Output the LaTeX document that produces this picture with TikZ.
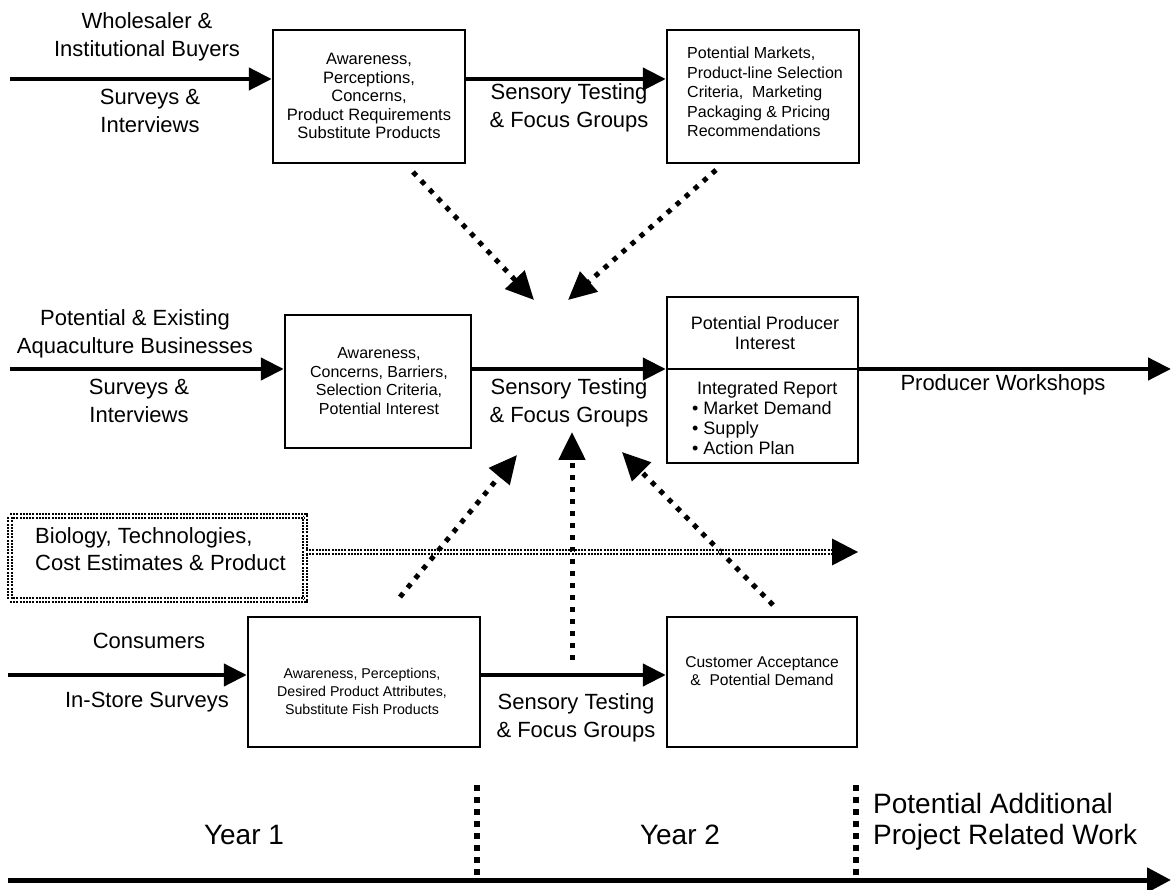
\documentclass[tikz,border=0pt]{standalone}
\usepackage{fontspec}
\setmainfont{Liberation Sans}
\usetikzlibrary{arrows.meta}
\tikzset{
  box/.style={draw, line width=2.5pt, inner sep=0pt},
  biglabel/.style={font=\fontsize{22}{27.5}\selectfont, align=center, inner sep=0pt},
  yearlabel/.style={font=\fontsize{28}{31}\selectfont, align=left, inner sep=0pt},
  boxtext/.style={font=\fontsize{16.5}{18.5}\selectfont, align=center, inner sep=0pt},
  prodtext/.style={font=\fontsize{18}{20}\selectfont, inner sep=0pt},
  mainarrow/.style={line width=4.5pt, -{Triangle[length=23pt,width=22pt]}},
  dotarrow/.style={line width=5pt, dash pattern=on 5pt off 7pt, -{Triangle[length=28pt,width=26pt]}},
  dbldot/.style={line width=2pt, double distance=1.2pt, dash pattern=on 2pt off 1.2pt},
  timedash/.style={line width=6pt, dash pattern=on 6pt off 6pt},
}
\begin{document}
\begin{tikzpicture}[x=1pt,y=-1pt]
\useasboundingbox (0,0) rectangle (1171,890);

% ---------- boxes ----------
\node[box, minimum width=192pt, minimum height=133pt] (b1) at (369,96.5) {};
\node[box, minimum width=192pt, minimum height=133pt] (b2) at (763,96.5) {};
\node[box, minimum width=186pt, minimum height=133pt] (b3) at (378,381.5) {};
\node[box, minimum width=191pt, minimum height=166pt] (prod) at (762.5,380) {};
\node[box, minimum width=232pt, minimum height=130pt] (b4) at (364,682) {};
\node[box, minimum width=190pt, minimum height=130pt] (b5) at (762,682) {};
\node[draw, dbldot, minimum width=295pt, minimum height=84pt, inner sep=0pt] (bio) at (157.5,558) {};

% ---------- box texts ----------
\node[boxtext] (t1) at (369,96) {Awareness,\\Perceptions,\\Concerns,\\Product Requirements\\Substitute Products};
\node[boxtext, font=\fontsize{16}{19.5}\selectfont, align=left, anchor=west] (t2) at (687,92) {Potential Markets,\\Product-line Selection\\Criteria,~ Marketing\\Packaging \& Pricing\\Recommendations};
\node[boxtext, font=\fontsize{16}{18.7}\selectfont] (t3) at (379,381) {Awareness,\\Concerns, Barriers,\\Selection Criteria,\\Potential Interest};
\node[prodtext, align=center] (t4) at (765,333) {Potential Producer\\Interest};
\node[prodtext, align=left, anchor=west] (t5) at (692,418) {\hspace*{5pt}Integrated Report\\{\textbullet} Market Demand\\{\textbullet} Supply\\{\textbullet} Action Plan};
\node[boxtext, font=\fontsize{14.2}{18}\selectfont] (t6) at (362,691) {Awareness, Perceptions,\\Desired Product Attributes,\\Substitute Fish Products};
\node[boxtext, font=\fontsize{15.6}{18.5}\selectfont] (t7) at (762,671) {Customer Acceptance\\\&~ Potential Demand};
\node[biglabel, align=left, anchor=west] (t8) at (35,549) {Biology, Technologies,\\Cost Estimates \& Product};

% ---------- labels ----------
\node[biglabel] (l1) at (147,37) {Wholesaler \&\\Institutional Buyers};
\node[biglabel] (l2) at (150,111) {Surveys \&\\Interviews};
\node[biglabel] (l3) at (569,108) {Sensory Testing\\\& Focus Groups};
\node[biglabel] (l4) at (135,334) {Potential \& Existing\\Aquaculture Businesses};
\node[biglabel] (l5) at (139,401) {Surveys \&\\Interviews};
\node[biglabel] (l6) at (569,403) {Sensory Testing\\\& Focus Groups};
\node[biglabel] (l7) at (1003,385) {Producer Workshops};
\node[biglabel] (l8) at (149,641) {Consumers};
\node[biglabel] (l9) at (147,702) {In-Store Surveys};
\node[biglabel] (l10) at (576,718) {Sensory Testing\\\& Focus Groups};
\node[yearlabel] (y1) at (244,835) {Year 1};
\node[yearlabel] (y2) at (680,835) {Year 2};
\node[yearlabel, anchor=west] (y3) at (873,822) {Potential Additional\\Project Related Work};

% ---------- solid arrows ----------
\coordinate (s1) at (10,79);
\coordinate (s2) at (10,369);
\coordinate (s3) at (8,675);
\coordinate (e2) at (1171,369);
\draw[mainarrow] (s1) -- (s1 -| b1.west);
\draw[mainarrow] (s1 -| b1.east) -- (s1 -| b2.west);
\draw[mainarrow] (s2) -- (s2 -| b3.west);
\draw[mainarrow] (s2 -| b3.east) -- (s2 -| prod.west);
\draw[line width=2.5pt] (s2 -| prod.west) -- (s2 -| prod.east);
\draw[mainarrow] (s2 -| prod.east) -- (e2);
\draw[mainarrow] (s3) -- (s3 -| b4.west);
\draw[mainarrow] (s3 -| b4.east) -- (s3 -| b5.west);

% ---------- dotted arrows ----------
\coordinate (d1s) at (413,172);  \coordinate (d1e) at (534,300);
\coordinate (d2s) at (716,170);  \coordinate (d2e) at (568,300);
\coordinate (d3s) at (400,597);  \coordinate (d3e) at (517,455);
\coordinate (d4s) at (572,660);  \coordinate (d4e) at (572,432);
\coordinate (d5s) at (773,605);  \coordinate (d5e) at (622,452);
\draw[dotarrow] (d1s) -- (d1e);
\draw[dotarrow] (d2s) -- (d2e);
\draw[dotarrow] (d3s) -- (d3e);
\draw[dotarrow] (d4s) -- (d4e);
\draw[dotarrow] (d5s) -- (d5e);

% ---------- biology arrow ----------
\coordinate (bioe) at (858,552);
\draw[dbldot] (bio.east |- bioe) -- ([xshift=-26pt]bioe);
\fill ([xshift=-26pt,yshift=-13.5pt]bioe) -- (bioe) -- ([xshift=-26pt,yshift=13.5pt]bioe) -- cycle;

% ---------- timeline ----------
\coordinate (ax0) at (8,880);
\coordinate (ax1) at (1171,880);
\draw[line width=5pt, -{Triangle[length=24pt,width=24pt]}] (ax0) -- (ax1);
\coordinate (v1t) at (477,785);
\coordinate (v2t) at (856,785);
\draw[timedash] (v1t) -- (v1t |- 0,876);
\draw[timedash] (v2t) -- (v2t |- 0,876);
\end{tikzpicture}
\end{document}
